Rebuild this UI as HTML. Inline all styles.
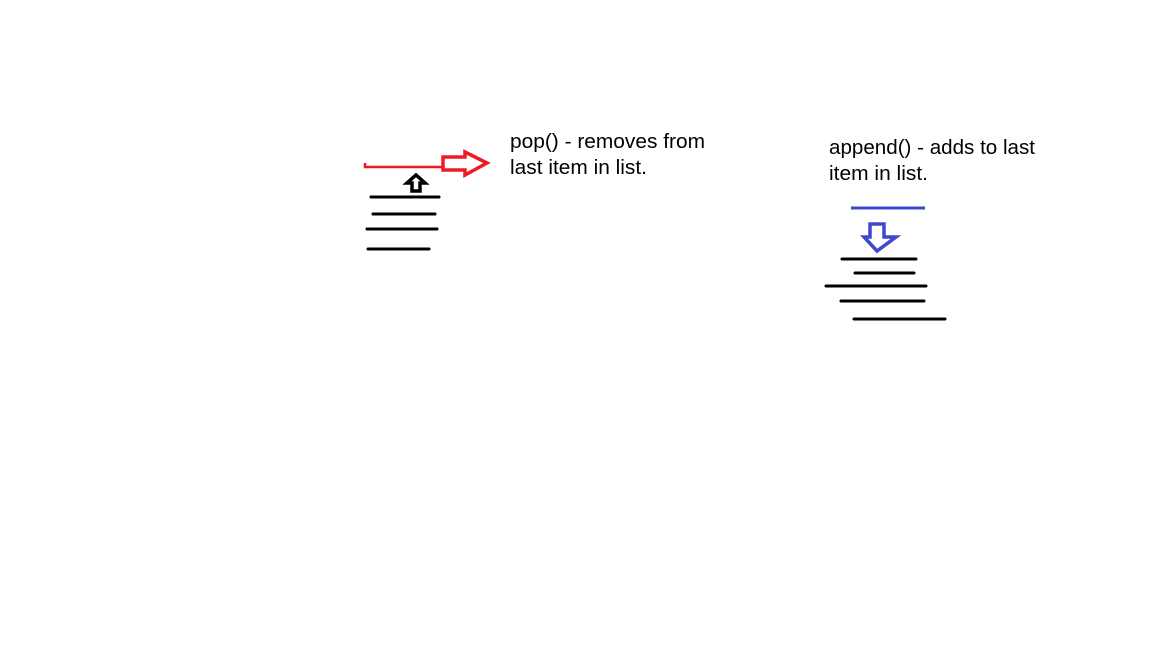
<!DOCTYPE html>
<html><head><style>
html,body{margin:0;padding:0;background:#fff;}
svg{display:block}
text{font-family:"Liberation Sans",sans-serif;font-size:20px;fill:#000}
</style></head><body>
<svg width="1152" height="648" viewBox="0 0 1152 648" xmlns="http://www.w3.org/2000/svg">
<rect width="1152" height="648" fill="#fff"/>
<text x="510" y="148" textLength="195" lengthAdjust="spacingAndGlyphs">pop() - removes from</text>
<text x="510" y="174" textLength="137" lengthAdjust="spacingAndGlyphs">last item in list.</text>
<text x="829" y="154" textLength="206" lengthAdjust="spacingAndGlyphs">append() - adds to last</text>
<text x="829" y="180" textLength="99" lengthAdjust="spacingAndGlyphs">item in list.</text>
<g stroke="#000" stroke-width="3" stroke-linecap="round">
<line x1="371" y1="197" x2="439" y2="197"/>
<line x1="373" y1="214" x2="435" y2="214"/>
<line x1="367" y1="229" x2="437" y2="229"/>
<line x1="368" y1="249" x2="429" y2="249"/>
<line x1="842" y1="259" x2="916" y2="259"/>
<line x1="855" y1="273" x2="914" y2="273"/>
<line x1="826" y1="286" x2="926" y2="286"/>
<line x1="841" y1="301" x2="924" y2="301"/>
<line x1="854" y1="319" x2="945" y2="319"/>
</g>
<path d="M365 163 L365 167 L443 167" fill="none" stroke="#ed1c24" stroke-width="2.5"/>
<path d="M443 157 L465 157 L465 152 L487 163 L465 175 L465 170 L443 170 Z" fill="none" stroke="#ed1c24" stroke-width="3.5" stroke-linejoin="miter"/>
<path d="M412 191 L412 183 L407 183 L416 175 L425 183 L420 183 L420 191 Z" fill="none" stroke="#000" stroke-width="3.5"/>
<line x1="851" y1="208" x2="925" y2="208" stroke="#3f48cc" stroke-width="3"/>
<path d="M870 224 L884 224 L884 237 L896 237 L877 251 L864 237 L870 237 Z" fill="none" stroke="#3f48cc" stroke-width="3.5"/>
</svg>
</body></html>
